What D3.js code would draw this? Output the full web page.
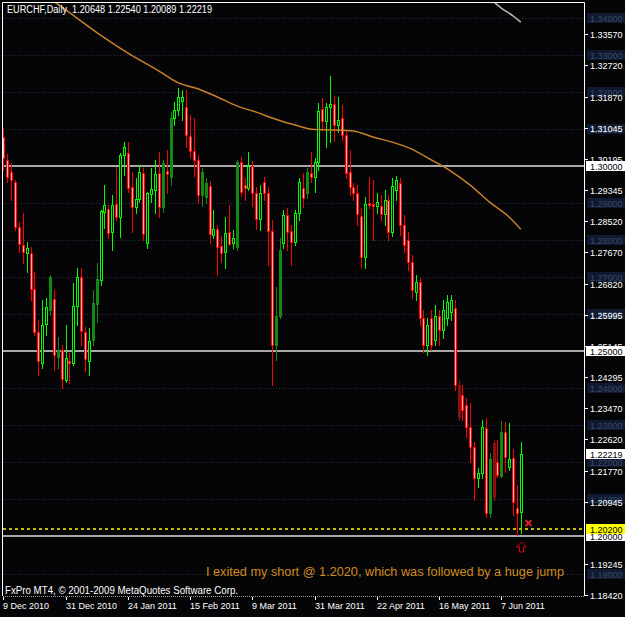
<!DOCTYPE html>
<html>
<head>
<meta charset="utf-8">
<script src="https://cdn.jsdelivr.net/npm/d3@7"></script>
<style>
  body { margin: 0; background: #000; }
  svg { display: block; }
  text { font-family: "Liberation Sans", Arial, sans-serif; }
</style>
</head>
<body>
<script>
// EURCHF daily candles, 9 Dec 2010 .. 14 Jun 2011 (bar index 0..133)
const symbol = 'EURCHF,Daily';

const open = [
1.3079,1.3017,1.2985,1.2958,1.2836,1.2788,1.2766,1.2766,1.2669,1.2553,
1.2469,1.2574,1.2612,1.2642,1.2485,1.2504,1.2423,1.2474,1.2469,1.2623,
1.2701,1.2553,1.2474,1.2531,1.2628,1.2693,1.2877,1.2885,1.2823,1.2898,
1.2863,1.3031,1.3036,1.2944,1.2890,1.2912,1.2982,1.2793,1.2925,1.2936,
1.2982,1.2890,1.2987,1.2971,1.3130,1.3152,1.3176,1.3160,1.3082,1.3041,
1.3017,1.2923,1.2917,1.2947,1.2814,1.2831,1.2785,1.2769,1.2823,1.2793,
1.2782,1.3012,1.2950,1.2941,1.3001,1.2928,1.2858,1.2958,1.2928,1.2825,
1.2517,1.2596,1.2793,1.2869,1.2825,1.2796,1.2874,1.2941,1.2928,1.2982,
1.2971,1.3012,1.3155,1.3122,1.3160,1.3168,1.3112,1.3130,1.3085,1.2985,
1.2944,1.2928,1.2866,1.2755,1.2901,1.2898,1.2893,1.2893,1.2871,1.2909,
1.2823,1.2936,1.2955,1.2842,1.2801,1.2742,1.2661,1.2688,1.2590,1.2517,
1.2590,1.2531,1.2596,1.2558,1.2590,1.2607,1.2617,1.2409,1.2382,1.2356,
1.2296,1.2242,1.2158,1.2172,1.2293,1.2064,1.2253,1.2202,1.2164,1.2283,
1.2188,1.2212,1.2077,1.20648];

const high = [
1.3103,1.3033,1.3009,1.2963,1.2850,1.2874,1.2796,1.2782,1.2715,1.2585,
1.2639,1.2644,1.2707,1.2666,1.2539,1.2517,1.2572,1.2496,1.2685,1.2725,
1.2725,1.2566,1.2563,1.2666,1.2739,1.2882,1.2950,1.2896,1.2923,1.2998,
1.3036,1.3066,1.3066,1.2985,1.2968,1.3004,1.2995,1.2931,1.2995,1.3017,
1.3039,1.3017,1.3044,1.3147,1.3174,1.3211,1.3206,1.3206,1.3139,1.3130,
1.3031,1.2995,1.2968,1.2960,1.2882,1.2842,1.2812,1.2863,1.2896,1.2828,
1.3017,1.3025,1.2968,1.3039,1.3014,1.2944,1.2950,1.2971,1.2944,1.2855,
1.2674,1.2806,1.2882,1.2887,1.2842,1.2882,1.2968,1.2982,1.2995,1.3039,
1.3022,1.3171,1.3184,1.3171,1.3244,1.3190,1.3187,1.3166,1.3098,1.3044,
1.2955,1.2950,1.2887,1.2917,1.2971,1.2963,1.2928,1.2923,1.2936,1.2923,
1.2968,1.2974,1.2968,1.2869,1.2823,1.2761,1.2707,1.2698,1.2612,1.2590,
1.2612,1.2626,1.2612,1.2639,1.2653,1.2653,1.2639,1.2423,1.2409,1.2374,
1.2361,1.2256,1.2185,1.2315,1.2320,1.2226,1.2261,1.2261,1.2312,1.2310,
1.2307,1.2237,1.2140,1.22540];

const low = [
1.2990,1.2958,1.2909,1.2828,1.2769,1.2739,1.2715,1.2639,1.2544,1.2437,
1.2455,1.2544,1.2599,1.2450,1.2455,1.2401,1.2418,1.2415,1.2463,1.2572,
1.2517,1.2447,1.2437,1.2517,1.2580,1.2680,1.2833,1.2806,1.2774,1.2855,
1.2809,1.2977,1.2931,1.2823,1.2874,1.2904,1.2801,1.2779,1.2904,1.2874,
1.2863,1.2877,1.2928,1.2950,1.3112,1.3139,1.3125,1.3052,1.3025,1.2974,
1.2901,1.2893,1.2901,1.2793,1.2806,1.2707,1.2742,1.2725,1.2788,1.2779,
1.2774,1.2920,1.2909,1.2936,1.2893,1.2831,1.2828,1.2909,1.2734,1.2409,
1.2477,1.2590,1.2779,1.2774,1.2734,1.2788,1.2855,1.2890,1.2914,1.2958,
1.2931,1.2990,1.3098,1.3052,1.3066,1.3068,1.3093,1.3071,1.2968,1.2923,
1.2909,1.2842,1.2728,1.2725,1.2887,1.2801,1.2874,1.2855,1.2842,1.2801,
1.2812,1.2909,1.2814,1.2769,1.2720,1.2644,1.2639,1.2572,1.2499,1.2491,
1.2504,1.2517,1.2517,1.2536,1.2572,1.2585,1.2396,1.2315,1.2315,1.2269,
1.2202,1.2099,1.2134,1.2158,1.2053,1.2053,1.2099,1.2161,1.2161,1.2175,
1.2180,1.2058,1.2004,1.20089];

const close = [
1.3022,1.2971,1.2963,1.2836,1.2790,1.2769,1.2779,1.2669,1.2553,1.2474,
1.2572,1.2620,1.2701,1.2491,1.2504,1.2426,1.2482,1.2469,1.2623,1.2701,
1.2555,1.2480,1.2528,1.2631,1.2696,1.2879,1.2896,1.2820,1.2896,1.2863,
1.3031,1.3052,1.2941,1.2890,1.2912,1.2985,1.2817,1.2928,1.2939,1.2979,
1.2890,1.3009,1.2979,1.3130,1.3152,1.3187,1.3187,1.3085,1.3041,1.3017,
1.2923,1.2985,1.2955,1.2817,1.2831,1.2782,1.2766,1.2820,1.2790,1.2806,
1.3012,1.2931,1.2941,1.3001,1.2928,1.2858,1.2928,1.2928,1.2825,1.2517,
1.2596,1.2774,1.2869,1.2823,1.2796,1.2874,1.2958,1.2914,1.2985,1.2971,
1.3012,1.3149,1.3122,1.3160,1.3168,1.3112,1.3125,1.3085,1.2982,1.2944,
1.2928,1.2871,1.2755,1.2898,1.2896,1.2893,1.2904,1.2871,1.2909,1.2823,
1.2947,1.2963,1.2842,1.2788,1.2742,1.2666,1.2688,1.2590,1.2517,1.2572,
1.2517,1.2596,1.2558,1.2612,1.2634,1.2639,1.2409,1.2323,1.2342,1.2296,
1.2242,1.2158,1.2172,1.2296,1.2064,1.2210,1.2107,1.2167,1.2283,1.2215,
1.2210,1.2093,1.2064,1.22219];

// bars painted in the darker colour set
const dimBars = [12,14,23,24,41,43,51,52,60,70,71,78,117,125,126,128];

// moving averages (bar index -> value)
const maIdx = [12,15,20,25,30,35,40,45,50,55,60,65,70,75,80,85,90,95,100,105,110,115,120,125,130,133];
const maVal = [1.3452,1.3430,1.3392,1.3354,1.3319,1.3287,1.3257,1.3225,1.3209,1.3187,1.3163,1.3146,1.3127,
               1.3111,1.3099,1.3098,1.3095,1.3079,1.3065,1.3046,1.3017,1.2987,1.2949,1.2903,1.2863,1.2830];
const ma2Idx = [124,126,128,131,133];
const ma2Val = [1.3457,1.3444,1.3427,1.3406,1.3389];

// axes
const dateTickIdx = [0,16,32,48,64,80,96,112,128];
const dateTickLabels = ['9 Dec 2010','31 Dec 2010','24 Jan 2011','15 Feb 2011','9 Mar 2011',
                        '31 Mar 2011','22 Apr 2011','16 May 2011','7 Jun 2011'];
const priceTicks = [1.33570,1.32720,1.31870,1.31045,1.30195,1.29345,1.28520,1.27670,1.26820,
                    1.25995,1.25145,1.24295,1.23470,1.22620,1.21770,1.20945,1.19245,1.18420];

// horizontal line objects
const faintLevels = [1.34,1.33,1.32,1.31,1.29,1.28,1.27,1.26,1.24,1.23,1.22,1.21,1.19];
const roundLevels = [1.30,1.25,1.20];
const exitLevel = 1.2020;
const note = 'I exited my short @ 1.2020, which was followed by a huge jump';

const W = 625, H = 617;
const pL = 3, pR = 585, pT = 3, pB = 596;

const svg = d3.select('body').append('svg')
  .attr('width', W)
  .attr('height', H);

svg.append('rect').attr('width', W).attr('height', H).attr('fill', '#050507');

const x = d3.scaleLinear().domain([0, 128]).range([3.3, 501.3]);
const y = d3.scaleLinear().domain([1.1842, 1.3357]).range([595, 34]);
const px = i => Math.round(x(i));
const py = v => Math.round(y(v));

svg.append('clipPath').attr('id', 'plot')
  .append('rect').attr('x', pL).attr('y', pT).attr('width', pR - pL).attr('height', pB - pT);

const plot = svg.append('g').attr('clip-path', 'url(#plot)');

// dotted level lines
plot.selectAll('.faint')
  .data(faintLevels)
  .enter()
  .append('line')
  .attr('x1', pL).attr('x2', pR)
  .attr('y1', d => py(d) + 0.5).attr('y2', d => py(d) + 0.5)
  .attr('stroke', '#26303c')
  .attr('stroke-dasharray', '1,2');

// round levels
plot.selectAll('.round')
  .data(roundLevels)
  .enter()
  .append('line')
  .attr('x1', pL).attr('x2', pR)
  .attr('y1', d => py(d)).attr('y2', d => py(d))
  .attr('stroke', '#a8a8a8')
  .attr('stroke-width', 2);

// candles
const bars = d3.range(open.length).map(i => ({
  i: i, o: open[i], h: high[i], l: low[i], c: close[i],
  up: close[i] >= open[i], dim: dimBars.includes(i)
}));

const wickColor = d => d.dim ? (d.up ? '#138a13' : '#8c1010') : (d.up ? '#00ff00' : '#ff0000');
const bodyFill = d => d.dim ? (d.up ? '#138a13' : '#8c1010') : (d.up ? '#000000' : '#ffb4b4');

const candle = plot.selectAll('.candle')
  .data(bars)
  .enter()
  .append('g')
  .attr('class', 'candle');

candle.append('line')
  .attr('x1', d => px(d.i) + 0.5).attr('x2', d => px(d.i) + 0.5)
  .attr('y1', d => py(d.h)).attr('y2', d => py(d.l) + 1)
  .attr('stroke', wickColor);

candle.append('rect')
  .attr('x', d => px(d.i) - 0.5)
  .attr('width', 2)
  .attr('y', d => py(Math.max(d.o, d.c)) + 0.5)
  .attr('height', d => Math.max(0, py(Math.min(d.o, d.c)) - py(Math.max(d.o, d.c))))
  .attr('fill', bodyFill)
  .attr('stroke', wickColor);

// moving averages
const maLine = d3.line()
  .x(d => x(d[0]))
  .y(d => y(d[1]))
  .curve(d3.curveMonotoneX);

plot.append('path')
  .datum(d3.zip(maIdx, maVal))
  .attr('d', maLine)
  .attr('fill', 'none')
  .attr('stroke', '#c8802a')
  .attr('stroke-width', 1.5);

plot.append('path')
  .datum(d3.zip(ma2Idx, ma2Val))
  .attr('d', maLine)
  .attr('fill', 'none')
  .attr('stroke', '#b8b8b8')
  .attr('stroke-width', 1.5);

// exit level
plot.append('line')
  .attr('x1', pL).attr('x2', pR)
  .attr('y1', py(exitLevel)).attr('y2', py(exitLevel))
  .attr('stroke', '#c0c000')
  .attr('stroke-width', 2)
  .attr('stroke-dasharray', '3,3');

// markers at the last bar
const last = open.length - 1;
const ax = px(last) + 0.5, ay = py(1.1984);
plot.append('path')
  .attr('d', `M${ax},${ay} L${ax + 5},${ay + 5} L${ax + 2},${ay + 5} L${ax + 2},${ay + 10} L${ax - 2},${ay + 10} L${ax - 2},${ay + 5} L${ax - 5},${ay + 5} Z`)
  .attr('fill', 'none')
  .attr('stroke', '#e00000');

const mx = x(last + 2), my = y(1.2036);
plot.append('path')
  .attr('d', `M${mx - 3},${my - 3} L${mx + 3},${my + 3} M${mx + 3},${my - 3} L${mx - 3},${my + 3}`)
  .attr('stroke', '#ff2020')
  .attr('stroke-width', 1.6);

// note
plot.append('text')
  .attr('x', 206).attr('y', 576)
  .attr('textLength', 358)
  .attr('lengthAdjust', 'spacingAndGlyphs')
  .style('font-size', '12.5px')
  .style('fill', '#d08a1a')
  .text(note);

// header and copyright
const fmt = d3.format('.5f');
svg.append('text')
  .attr('x', 7).attr('y', 13)
  .attr('textLength', 205)
  .attr('lengthAdjust', 'spacingAndGlyphs')
  .style('font-size', '10px')
  .style('fill', '#ffffff')
  .style('white-space', 'pre')
  .text(`${symbol}  ${fmt(open[last])} ${fmt(high[last])} ${fmt(low[last])} ${fmt(close[last])}`);

svg.append('text')
  .attr('x', 5).attr('y', 594)
  .attr('textLength', 233)
  .attr('lengthAdjust', 'spacingAndGlyphs')
  .style('font-size', '10px')
  .style('fill', '#ffffff')
  .text('FxPro MT4, \u00a9 2001-2009 MetaQuotes Software Corp.');

// frame
svg.append('path')
  .attr('d', `M${pL - 0.5},${pB} V${pT - 0.5} H${pR - 0.5} V${pB}`)
  .attr('fill', 'none')
  .attr('stroke', '#ffffff');
svg.append('line')
  .attr('x1', pL).attr('x2', pR)
  .attr('y1', pB + 0.5).attr('y2', pB + 0.5)
  .attr('stroke', '#9a9a9a')
  .attr('stroke-dasharray', '1,1');

// right axis: faint level boxes, then tick labels
const boxes = svg.append('g');
boxes.selectAll('rect')
  .data(faintLevels)
  .enter()
  .append('rect')
  .attr('x', 587).attr('width', 38)
  .attr('y', d => py(d) - 5).attr('height', 10)
  .attr('fill', '#0f1a30');
boxes.selectAll('text')
  .data(faintLevels)
  .enter()
  .append('text')
  .attr('x', 590).attr('y', d => py(d) + 4)
  .style('font-size', '9px')
  .style('fill', '#3a4866')
  .text(d => fmt(d));

const yAxis = svg.append('g');
yAxis.selectAll('line')
  .data(priceTicks)
  .enter()
  .append('line')
  .attr('x1', pR).attr('x2', pR + 3)
  .attr('y1', d => py(d) + 0.5).attr('y2', d => py(d) + 0.5)
  .attr('stroke', '#ffffff');
yAxis.selectAll('text')
  .data(priceTicks)
  .enter()
  .append('text')
  .attr('x', 590).attr('y', d => py(d) + 4)
  .style('font-size', '9px')
  .style('fill', '#ffffff')
  .text(d => fmt(d));

// labelled boxes: round levels, exit level, current price
const tags = roundLevels.map(v => ({ v: v, bg: '#ffffff' }))
  .concat([{ v: exitLevel, bg: '#ffff00' }, { v: close[last], bg: '#ffffff' }]);
const tag = svg.selectAll('.tag')
  .data(tags)
  .enter()
  .append('g');
tag.append('rect')
  .attr('x', 586).attr('width', 39)
  .attr('y', d => py(d.v) - 5).attr('height', 10)
  .attr('fill', d => d.bg);
tag.append('text')
  .attr('x', 590).attr('y', d => py(d.v) + 4)
  .style('font-size', '9px')
  .style('fill', '#000000')
  .text(d => fmt(d.v));

// time axis
const xAxis = svg.append('g');
xAxis.selectAll('line')
  .data(dateTickIdx)
  .enter()
  .append('line')
  .attr('x1', d => px(d) + 0.5).attr('x2', d => px(d) + 0.5)
  .attr('y1', pB + 1).attr('y2', pB + 4)
  .attr('stroke', '#ffffff');
xAxis.selectAll('text')
  .data(dateTickIdx)
  .enter()
  .append('text')
  .attr('x', d => px(d))
  .attr('y', 609)
  .style('font-size', '9px')
  .style('fill', '#ffffff')
  .text((d, k) => dateTickLabels[k]);
</script>
</body>
</html>
